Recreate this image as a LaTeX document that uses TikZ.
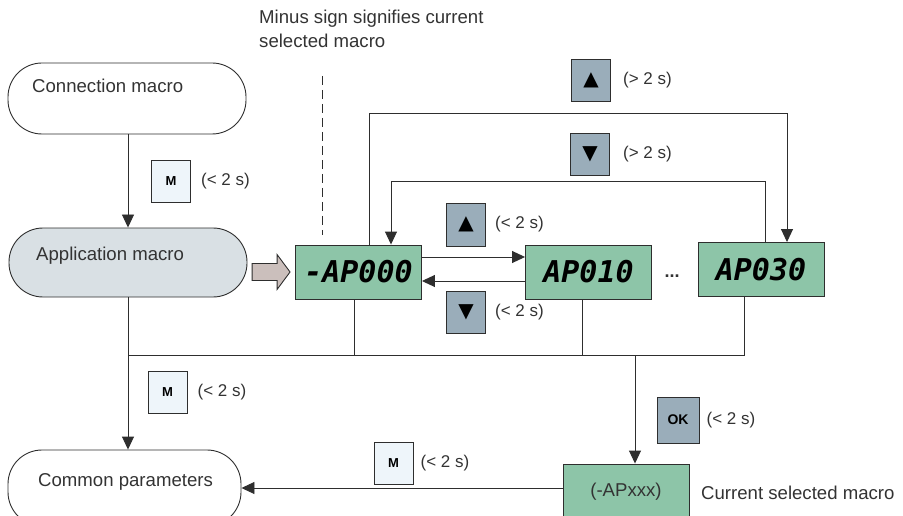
\documentclass[tikz,border=0pt]{standalone}
\usepackage{fontspec}
\setmainfont{Liberation Sans}
\newfontfamily\lcdfont{DejaVu Sans Mono}
\newfontfamily\symfont{DejaVu Sans}
\usepackage{xcolor}
\usepackage{tikz}
\usetikzlibrary{shapes,arrows.meta,positioning,calc}
\definecolor{lcdgreen}{HTML}{8DC5A8}
\definecolor{keyblue}{HTML}{9AADBA}
\definecolor{keylight}{HTML}{EEF5FA}
\definecolor{macrogray}{HTML}{D9E0E4}
\definecolor{pointer}{HTML}{CBBFBC}
\definecolor{linegray}{HTML}{2E2E2E}
\definecolor{textgray}{HTML}{333333}

\begin{document}
\begin{tikzpicture}[x=1pt, y=-1pt,
    macro/.style={rectangle, draw=linegray, line width=0.9pt, rounded corners=34pt, inner sep=0pt},
    lcd/.style={rectangle, draw=linegray, line width=0.9pt, fill=lcdgreen, minimum width=126pt, minimum height=54pt, font=\lcdfont\fontsize{30}{30}\selectfont\bfseries\itshape},
    keybox/.style={rectangle, draw=linegray, line width=0.9pt, fill=keyblue, minimum width=39pt, minimum height=42pt, inner sep=0pt, font=\symfont\fontsize{20}{20}\selectfont},
    mkey/.style={keybox, fill=keylight, font=\fontsize{13}{13}\selectfont\bfseries},
    txt/.style={text=textgray, font=\fontsize{18.6}{24}\selectfont, inner sep=0pt},
    hold/.style={text=textgray, font=\fontsize{17}{20}\selectfont, inner sep=0pt},
    wire/.style={draw=linegray, line width=0.9pt},
    arrow/.style={wire, -{Triangle[length=13pt,width=12pt]}}]

    \clip (0,0) rectangle (903,516);

    \node[macro, minimum width=238pt, minimum height=71pt] (conn) at (127,98.5) {};
    \node[txt, anchor=west] (conntext) at (32,86) {Connection macro};
    \node[macro, fill=macrogray, minimum width=238pt, minimum height=69pt] (app) at (128,262.5) {};
    \node[txt, anchor=west] (apptext) at (36,256) {Application macro};
    \node[macro, minimum width=233pt, minimum height=76pt] (common) at (124.5,488) {};
    \node[txt, anchor=west] (commontext) at (38,482) {Common parameters};

    \node[txt, anchor=north west, align=left] (note) at (259,10) {Minus sign signifies current\\selected macro};
    \coordinate (dashtop) at (322,76);
    \coordinate (dashend) at (322,235);
    \draw[wire, dash pattern=on 9pt off 5pt] (dashtop) -- (dashend);

    \node[lcd] (ap000) at (358.5,272) {-AP000};
    \node[lcd] (ap010) at (588.5,272) {AP010};
    \node[txt, font=\fontsize{18}{22}\selectfont\bfseries] (dots) at (672,276) {...};
    \node[lcd] (ap030) at (761,269.5) {AP030};
    \node[lcd, font=\fontsize{18.6}{22}\selectfont, text=textgray, minimum height=56pt] (apxxx) at (626,492) {(-APxxx)};
    \node[txt, anchor=west] (curtext) at (701,493) {Current selected macro};

    \node[mkey] (mtop) at (171,181) {M};
    \node[hold, right=10pt of mtop] (mtoptime) {(< 2 s)};
    \node[keybox] (uplong) at (591,80) {▲};
    \node[hold, right=12pt of uplong] (uplongtime) {(> 2 s)};
    \node[keybox] (downlong) at (590,154) {▼};
    \node[hold, right=13pt of downlong] (downlongtime) {(> 2 s)};
    \node[keybox, minimum height=43pt] (upshort) at (466,224.5) {▲};
    \node[hold, right=9pt of upshort] (upshorttime) {(< 2 s)};
    \node[keybox] (downshort) at (466,312.5) {▼};
    \node[hold, right=9pt of downshort] (downshorttime) {(< 2 s)};
    \node[mkey] (mbus) at (167.5,392) {M};
    \node[hold, right=10pt of mbus] (mbustime) {(< 2 s)};
    \node[keybox, minimum width=42pt, minimum height=46pt, font=\fontsize{14}{14}\selectfont\bfseries] (ok) at (678,420) {OK};
    \node[hold, right=7pt of ok] (oktime) {(< 2 s)};
    \node[mkey] (mlow) at (393.5,463) {M};
    \node[hold, right=7pt of mlow] (mlowtime) {(< 2 s)};

    \draw[arrow] (app.north |- conn.south) -- (app.north);
    \draw[wire, fill=pointer] ($(ap000.west)+(-43,-8.5)$) -- ++(25,0) -- ++(0,-9) -- ($(ap000.west)+(-5,0)$)
        -- ($(ap000.west)+(-18,17.5)$) -- ++(0,-9) -- ++(-25,0) -- cycle;
    \draw[arrow] ([yshift=15pt]ap000.east) -- ([yshift=15pt]ap010.west);
    \draw[arrow] ([yshift=-9pt]ap010.west) -- ([yshift=-9pt]ap000.east);
    \draw[arrow] ([xshift=10.5pt]ap000.north) -- ++(0,-131) -| ([xshift=26pt]ap030.north);
    \draw[arrow] ([xshift=4pt]ap030.north) -- ++(0,-60.5) -| ([xshift=32.5pt]ap000.north);

    \coordinate (bus) at (app.south |- 0,355);
    \draw[arrow] (app.south) -- (app.south |- common.north);
    \draw[wire] ([xshift=-4.5pt]ap000.south) |- (bus);
    \draw[wire] ([xshift=-6.5pt]ap010.south) |- (bus);
    \draw[wire] ([xshift=-17pt]ap030.south) |- (bus);
    \coordinate (okdrop) at ($(apxxx.north)+(9,0)$);
    \draw[arrow] (okdrop |- bus) -- (okdrop);
    \draw[arrow] (common.east -| apxxx.west) -- (common.east);
\end{tikzpicture}
\end{document}
